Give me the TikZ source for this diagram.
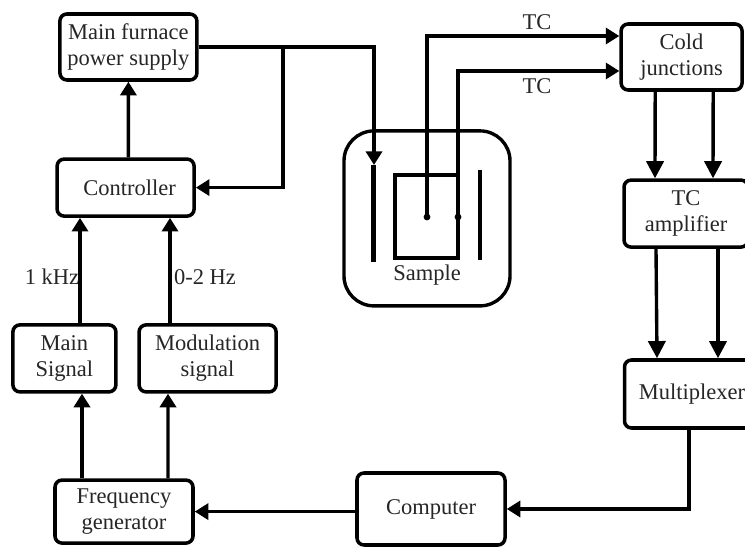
\documentclass[tikz,border=0pt]{standalone}
\usepackage{fontspec}
\setmainfont{Liberation Serif}
\usetikzlibrary{arrows.meta}
\tikzset{
  blockbox/.style={draw, line width=2.5pt, rounded corners=5pt, fill=white, align=center, inner sep=0pt, text=black!85, font=\fontsize{16}{18.5}\selectfont},
  wire/.style={line width=2.4pt, -{Triangle[length=0.34cm,width=0.4cm]}},
  bigwire/.style={line width=2.4pt, -{Triangle[length=0.43cm,width=0.43cm]}},
  textlabel/.style={text=black!85, font=\fontsize{16}{18.5}\selectfont},
  tcdot/.style={circle, fill=black, inner sep=0pt, minimum size=0.17cm},
  heater/.style={line width=3.4pt}
}

\begin{document}
\begin{tikzpicture}

\clip (0,0) rectangle (18.625,13.65);

% --- Left column ---
\node[blockbox, minimum width=3.425cm, minimum height=1.65cm] (supply) at (3.21,12.475) {Main furnace\\power supply};
\node[blockbox, minimum width=3.425cm, minimum height=1.425cm] (controller) at (3.14,8.96) {\hspace*{0.2cm}Controller};
\node[blockbox, minimum width=2.575cm, minimum height=1.675cm] (mainsig) at (1.61,4.69) {Main\\Signal};
\node[blockbox, minimum width=3.425cm, minimum height=1.675cm] (modsig) at (5.19,4.69) {Modulation\\signal};
\node[blockbox, minimum width=3.45cm, minimum height=1.575cm] (freqgen) at (3.10,0.86) {Frequency\\generator};
\node[textlabel] (lab-khz) at (1.3,6.725) {1 kHz};
\node[textlabel] (lab-hz) at (5.125,6.725) {0-2 Hz};

% --- Furnace with sample ---
\node[draw, line width=2.4pt, rounded corners=0.75cm, minimum width=4.15cm, minimum height=4.375cm] (oven) at (10.675,8.19) {};
\node[draw, line width=2.3pt, minimum width=1.575cm, minimum height=2.075cm] (sample) at (10.66,8.24) {};
\node[textlabel] (lab-sample) at (10.675,6.78) {Sample};
\draw[heater] (9.33,9.525) -- (9.33,7.1); % left heater
\draw[heater] (12.0,9.4) -- (12.0,7.15); % right heater
\coordinate (heatertop) at (9.35,9.525);
\node[tcdot] (tc-a) at (10.675,8.225) {};
\node[tcdot] (tc-b) at (11.45,8.225) {};

% --- Right column ---
\node[blockbox, minimum width=3.025cm, minimum height=1.65cm] (cold) at (17.04,12.225) {Cold\\junctions};
\node[blockbox, minimum width=3.1cm, minimum height=1.675cm] (amp) at (17.15,8.31) {TC\\amplifier};
\node[blockbox, minimum width=3.375cm, minimum height=1.7cm] (mux) at (17.3,3.8) {Multiplexer};
\node[blockbox, minimum width=3.7cm, minimum height=1.8cm] (computer) at (10.775,0.925) {Computer};
\node[textlabel] (lab-tca) at (13.425,13.1) {TC};
\node[textlabel] (lab-tcb) at (13.425,11.5) {TC};

% Power and control wires
\draw[wire] ([xshift=0.07cm]controller.north) -- (supply.south);
\draw[wire] (supply.east) -| (heatertop);
\coordinate (tap) at (7.075,12.475);
\draw[wire] (tap) |- (controller.east);
\draw[wire] ([xshift=0.39cm]mainsig.north) -- ([xshift=-1.14cm]controller.south);
\draw[wire] ([xshift=-0.94cm]modsig.north) -- ([xshift=1.11cm]controller.south);
\draw[wire] ([xshift=-1.05cm]freqgen.north) -- ([xshift=0.44cm]mainsig.south);
\draw[wire] ([xshift=1.1cm]freqgen.north) -- ([xshift=-0.99cm]modsig.south);

% Thermocouple wires
\draw[wire] (tc-a.center) |- ([yshift=0.525cm]cold.west);
\draw[wire] (tc-b.center) |- ([yshift=-0.35cm]cold.west);
\draw[bigwire] ([xshift=-0.66cm]cold.south) -- ([xshift=-0.775cm]amp.north);
\draw[bigwire] ([xshift=0.79cm]cold.south) -- ([xshift=0.675cm]amp.north);
\draw[bigwire] ([xshift=-0.75cm]amp.south) -- ([xshift=-0.875cm]mux.north);
\draw[bigwire] ([xshift=0.8cm]amp.south) -- ([xshift=0.65cm]mux.north);

% Back to the generator
\draw[wire] ([xshift=-0.075cm]mux.south) |- (computer.east);
\draw[wire] (computer.west |- freqgen.east) -- (freqgen.east);

\end{tikzpicture}
\end{document}
